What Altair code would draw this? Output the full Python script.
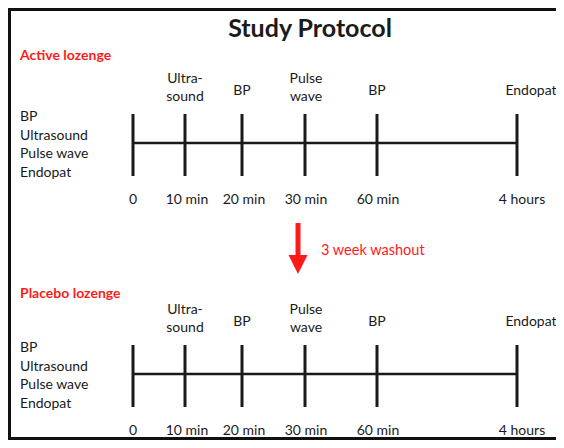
import altair as alt
import pandas as pd

# ---- content ----
title_text = "Study Protocol"
arms = ["Active lozenge", "Placebo lozenge"]
arm_line_y = [143, 374]          # timeline row position (layout units)
arm_header_y = [56, 294]
timepoints = ["0", "10 min", "20 min", "30 min", "60 min", "4 hours"]
tick_pos = [133, 185, 242, 305, 377, 517]   # timeline position of each timepoint
measures = ["", "Ultra-\nsound", "BP", "Pulse\nwave", "BP", "Endopat"]
measure_shift = [0, 0, 0, 1, 0, 14]
time_shift = [0, 2, 2, 1, 1, 5]
baseline_measures = ["BP", "Ultrasound", "Pulse wave", "Endopat"]
washout_label = "3 week washout"

# ---- tables ----
rows = []
for a, ly in zip(arms, arm_line_y):
    for t, p, m, ms, ts in zip(timepoints, tick_pos, measures, measure_shift, time_shift):
        rows.append(dict(arm=a, line_y=ly, time=t, pos=p, measure=m,
                         mpos=p + ms, tpos=p + ts,
                         top=ly - 29, bot=ly + 33,
                         my=ly - (64 if "\n" in m else 52), ty=ly + 57))
ticks = pd.DataFrame(rows)

arm_df = pd.DataFrame(dict(arm=arms, line_y=arm_line_y, header_y=arm_header_y,
                           start=[tick_pos[0]] * 2, end=[tick_pos[-1]] * 2,
                           left_x=[20, 20], list_y=[y - 26 for y in arm_line_y],
                           baseline_text=["\n".join(baseline_measures)] * 2))

W, H = 548, 432
# frame: left, top and bottom edges (the right edge lies outside the picture)
frame_h_df = pd.DataFrame(dict(x=[8, 8], x2=[8 + W, 8 + W], y=[9.5, 438.5]))
frame_v_df = pd.DataFrame(dict(x=[9.5], y=[8], y2=[8 + H]))
title_df = pd.DataFrame(dict(x=[310], y=[29], text=[title_text]))
arrow_df = pd.DataFrame(dict(x=[298], y=[223], y2=[258], hy=[264.5],
                             lx=[321], ly=[251], text=[washout_label]))

xs = alt.Scale(domain=[8, 8 + W], nice=False, zero=False)
ys = alt.Scale(domain=[8, 8 + H], nice=False, zero=False, reverse=True)


def X(f):
    return alt.X(f, type="quantitative", scale=xs, axis=None)


def Y(f):
    return alt.Y(f, type="quantitative", scale=ys, axis=None)


FONT = "Lato"
INK = "#1a1a1a"
RED = "#ff1a1a"
FS = 14

frame_h = alt.Chart(frame_h_df).mark_rule(color="#111111", strokeWidth=3).encode(
    x=X("x"), x2="x2", y=Y("y"))
frame_v = alt.Chart(frame_v_df).mark_rule(color="#111111", strokeWidth=3).encode(
    x=X("x"), y=Y("y"), y2="y2")

hline = alt.Chart(arm_df).mark_rule(color=INK, strokeWidth=2.5).encode(
    x=X("start"), x2="end", y=Y("line_y"))

vticks = alt.Chart(ticks).mark_rule(color=INK, strokeWidth=3).encode(
    x=X("pos"), y=Y("top"), y2="bot")

above = alt.Chart(ticks).mark_text(font=FONT, fontSize=FS, color=INK, lineBreak="\n",
                                   lineHeight=18, baseline="middle", align="center").encode(
    x=X("mpos"), y=Y("my"), text="measure:N")

below = alt.Chart(ticks).mark_text(font=FONT, fontSize=FS, color=INK, baseline="middle",
                                   align="center").encode(
    x=X("tpos"), y=Y("ty"), text="time:N")

left_list = alt.Chart(arm_df).mark_text(font=FONT, fontSize=FS, color=INK, lineBreak="\n",
                                        lineHeight=18.7, baseline="middle", align="left").encode(
    x=X("left_x"), y=Y("list_y"), text="baseline_text:N")

headers = alt.Chart(arm_df).mark_text(font=FONT, fontSize=FS, fontWeight="bold", color=RED,
                                      baseline="middle", align="left").encode(
    x=X("left_x"), y=Y("header_y"), text="arm:N")

title = alt.Chart(title_df).mark_text(font=FONT, fontSize=25, fontWeight="bold", color=INK,
                                      baseline="middle", align="center").encode(
    x=X("x"), y=Y("y"), text="text:N")

shaft = alt.Chart(arrow_df).mark_rule(color=RED, strokeWidth=5).encode(
    x=X("x"), y=Y("y"), y2="y2")

head = alt.Chart(arrow_df).mark_point(shape="M -1 -1 L 1 -1 L 0 1 Z", filled=True, fill=RED,
                                      stroke=RED, strokeWidth=0, opacity=1, size=361).encode(
    x=X("x"), y=Y("hy"))

washout = alt.Chart(arrow_df).mark_text(font=FONT, fontSize=14.5, color=RED, baseline="middle",
                                        align="left").encode(
    x=X("lx"), y=Y("ly"), text="text:N")

chart = alt.layer(frame_h, frame_v, hline, vticks, above, below, left_list, headers, title,
                  shaft, head, washout).properties(
    width=W, height=H, padding=0, background="white",
    autosize=alt.AutoSizeParams(type="none"),
).configure_view(stroke="transparent", strokeWidth=0)

chart.save("out.html", embed_options={"renderer": "svg", "actions": False})
